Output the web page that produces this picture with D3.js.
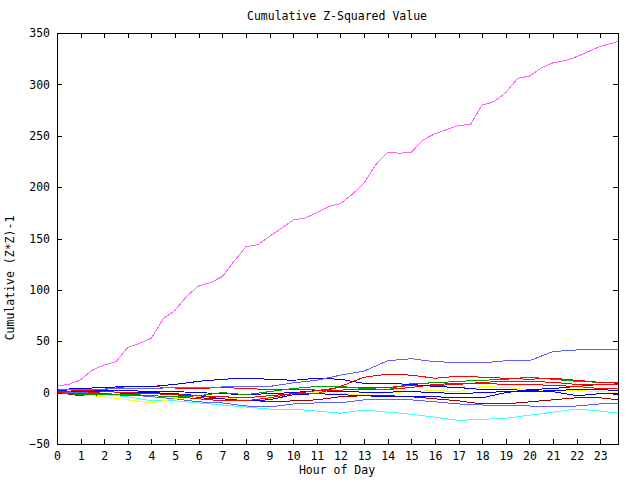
<!DOCTYPE html>
<html><head><meta charset="utf-8">
<script src="https://cdn.jsdelivr.net/npm/d3@7"></script>
<style>
body{margin:0;background:#fff}
text{font-family:"DejaVu Sans Mono",monospace;font-size:11.5px;fill:#000}
</style>
</head><body><svg id="c" width="640" height="480"></svg>
<script>
// ---- data ----
const titleText = "Cumulative Z-Squared Value";
const xLabel = "Hour of Day";
const yLabel = "Cumulative (Z*Z)-1";
const xTicks = d3.range(0, 24);
const yTicks = [-50, 0, 50, 100, 150, 200, 250, 300, 350];

const hoursFine = [0,0.5,1,1.5,2,2.5,3,3.5,4,4.5,5,5.5,6,6.5,7,7.5,8,8.5,9,9.5,10,10.5,11,11.5,12,12.5,13,13.5,14,14.5,15,15.5,16,16.5,17,17.5,18,18.5,19,19.5,20,20.5,21,21.5,22,22.5,23,23.5,23.75];
const magentaVals = [6.5,8,12.5,22,27,30,44,48,53,72,80,94,104,107,113,128,142,144,152,160,168,170,175,181,184,193,204,222,234,233,234,246,252,256,260,261,280,283,292,306,308,316,321,323,327,332,337,340,342];

const hours = [0,1,2,3,4,5,6,7,8,9,10,11,12,13,14,15,16,17,18,19,20,21,22,23,23.75];
const mblue1Vals = [2.5,3,3.5,4,4,5,5,5.5,5.5,6,9.5,12,17,21,31,33,30,29.5,29,31,31,40,41.5,42,42];
const blue1Vals  = [3,4,5,6,6,8,11,13,14,13,12,14,13,9,9,8,6,5,3,3,2,1,-3,-1,-1.5];
const blue2Vals  = [2,1,1,0,0,-1,-3,-6,-8,-7,-2,-1,-2,-3,-4,-4,-4,-5,-5,0,3,4,6,8,8.5];
const blue3Vals  = [1,2,2,2,1,1,0,-1,-2,-1,0,2,1,0.5,0.5,1,0,-1,0,1,1,2,3,3,2];
const mblue2Vals = [1,0,-1,-2,-4,-6,-9,-10,-13,-14,-11,-10,-10,-7,-7,-7,-9,-11,-12,-13,-13,-14,-13,-11,-11];
const cyanVals   = [0,-1,-2,-4,-8,-8,-10,-12,-14,-16,-16,-18,-20,-17,-19,-21,-24,-27,-26,-25,-22,-19,-16,-18,-20];
const yellowVals = [0,-2,-4,-7,-10,-6,-4,-5,-7,-6,-2,0,-1,-2,0,1,2,1,6,5,3,2,2,1,0];
const red1Vals   = [0,-1,1,0,-1,-2,-3,-4,-5,-3,-1,-1,6,15,18,17,14,16,15,14,13,14,12,10,9.5];
const red2Vals   = [0,-1,-1,-3,-3,-4,-6,-8,-8,-5,-1,2,5,5,5,7,7,8,10,11,11,10,8,8,7.5];
const red3Vals   = [1,2,3,6,6,4.5,4,5,4,3,3,2.5,2.5,3,3,5,8,9,9,8,8,7,6,4,3.5];
const darkredVals= [0,-3,-2,-1,-1,-2,-5,-6,-7,-9,-8,-7,-4,-3,-3,-4,-6,-8,-11,-11,-9,-7,-5,-5,-7];
const greenVals  = [0,-2,-2,-1.5,-3,-4,-3,0,-2,1,4,6,6,4,3,9,9.5,11,12,13,15,13,11,10,9.5];

const seriesList = [
  {x: hours, y: cyanVals,    color: "#40ffff"},
  {x: hours, y: mblue2Vals,  color: "#6060ff"},
  {x: hours, y: darkredVals, color: "#a00000"},
  {x: hours, y: yellowVals,  color: "#ffff00"},
  {x: hours, y: blue3Vals,   color: "#0000ff"},
  {x: hours, y: blue2Vals,   color: "#0000ff"},
  {x: hours, y: red3Vals,    color: "#ff0000"},
  {x: hours, y: red2Vals,    color: "#ff0000"},
  {x: hours, y: greenVals,   color: "#00a000"},
  {x: hours, y: red1Vals,    color: "#ff0000"},
  {x: hours, y: blue1Vals,   color: "#0000ff"},
  {x: hours, y: mblue1Vals,  color: "#6060ff"},
  {x: hoursFine, y: magentaVals, color: "#ff60ff"}
];

// ---- layout ----
const svg = d3.select("#c");
const L = 57, R = 618, T = 33, B = 444;
const x = d3.scaleLinear().domain([0, 23.75]).range([L, R]);
const y = d3.scaleLinear().domain([-50, 350]).range([B, T]);

const line = d3.line().x(d => x(d[0])).y(d => y(d[1]));
const g = svg.append("g");
seriesList.forEach(s => {
  g.append("path")
    .datum(s.x.map((h, i) => [h, s.y[i]]))
    .attr("d", line)
    .attr("fill", "none")
    .attr("stroke", s.color)
    .attr("stroke-width", 1)
    .attr("shape-rendering", "crispEdges");
});

function styleAxis(sel) {
  sel.select(".domain").remove();
  sel.selectAll("line").attr("stroke", "#000").attr("shape-rendering", "crispEdges");
  sel.selectAll("text").attr("fill", "#000").style("font-family", '"DejaVu Sans Mono",monospace').style("font-size", "11.5px");
}
svg.append("g").attr("transform", `translate(0,${B})`)
  .call(d3.axisBottom(x).tickValues(xTicks).tickSize(-5).tickPadding(8).tickFormat(d3.format("d")))
  .call(styleAxis);
svg.append("g").attr("transform", `translate(0,${T})`)
  .call(d3.axisTop(x).tickValues(xTicks).tickSize(-5).tickFormat(""))
  .call(styleAxis);
svg.append("g").attr("transform", `translate(${L},0)`)
  .call(d3.axisLeft(y).tickValues(yTicks).tickSize(-5).tickPadding(7).tickFormat(d3.format("d")))
  .call(styleAxis);
svg.append("g").attr("transform", `translate(${R},0)`)
  .call(d3.axisRight(y).tickValues(yTicks).tickSize(-5).tickFormat(""))
  .call(styleAxis);

svg.append("rect").attr("x", L).attr("y", T).attr("width", R - L).attr("height", B - T)
  .attr("fill", "none").attr("stroke", "#000").attr("stroke-width", 1).attr("shape-rendering", "crispEdges");

svg.append("text").attr("x", 337).attr("y", 20).attr("text-anchor", "middle").text(titleText);
svg.append("text").attr("x", 337).attr("y", 474).attr("text-anchor", "middle").text(xLabel);
svg.append("text").attr("transform", "translate(14,278) rotate(-90)").attr("text-anchor", "middle").text(yLabel);
</script></body></html>
